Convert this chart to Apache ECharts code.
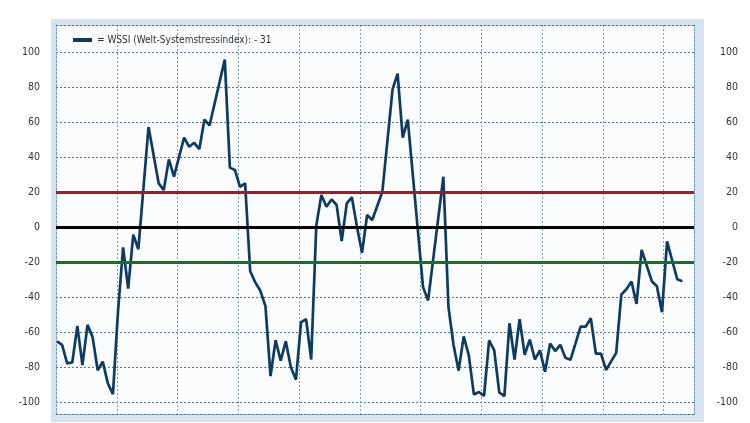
<!DOCTYPE html>
<html>
<head>
<meta charset="utf-8">
<script src="https://cdn.jsdelivr.net/npm/echarts@6/dist/echarts.min.js"></script>
<style>
  html, body { margin: 0; padding: 0; background: #fff; }
  #chart { width: 750px; height: 423px; }
</style>
</head>
<body>
<div id="chart"></div>
<script>
// Monatswerte (Index ab erstem Monat) und WSSI-Stand
const months = [0, 1, 2, 3, 4, 5, 6, 7, 8, 9, 10, 11, 12, 13, 14, 15, 16, 18, 20, 21, 22, 23,
  25, 26, 27, 28, 29, 30, 33, 34, 35, 36, 37, 38, 39, 40, 41, 42, 43, 44, 45, 46, 47, 48, 49, 50,
  51, 52, 53, 54, 55, 56, 57, 58, 59, 60, 61, 62, 64, 66, 67, 68, 69, 72, 73, 76, 77, 78, 79, 80,
  81, 82, 83, 84, 85, 86, 87, 88, 89, 90, 91, 92, 93, 94, 95, 96, 97, 98, 99, 100, 101, 103, 104,
  105, 106, 107, 108, 110, 111, 112, 113, 114, 115, 117, 118, 119, 120, 122, 123]

const wssi = [-65.5, -67.4, -78, -77.5, -56.6, -79, -56, -63, -82, -77, -89.5, -95.6, -48.2, -11.7,
  -35.3, -4.4, -12.7, 57.2, 25, 21.1, 38.7, 28.8, 51.2, 45.9, 48.2, 44.6, 61.5, 58.1, 95.8, 34,
  32.6, 23, 25, -25.3, -31.7, -36.5, -45.3, -85.3, -64.8, -76.5, -65.4, -80.2, -87.4, -54.4, -52.8,
  -75.8, 0.8, 18.3, 11.6, 15.8, 12.6, -8, 13.5, 17, 0.2, -14.7, 6.9, 4, 20.2, 78.8, 87.8, 51.1,
  61.5, -34.4, -42, 28.8, -45.8, -67.5, -82.2, -62.6, -73.4, -95.8, -94.4, -96.6, -64.9, -70.6,
  -94.7, -96.8, -55.1, -75.8, -52.8, -73.1, -64.4, -75.8, -70.6, -82.8, -66.6, -71, -67.4, -74.8,
  -76, -57, -57, -52.2, -72.5, -72.5, -81.8, -72, -38.7, -35.6, -31.2, -44, -13.1, -31, -33.9,
  -48.7, -8.2, -29.9, -31]

// Achsenbeschriftung links/rechts
const yTicks = [-100, -80, -60, -40, -20, 0, 20, 40, 60, 80, 100]

// Schwellen: 20 rot, 0 schwarz, -20 gruen
const levelValues = [20, 0, -20]
const levelColors = ['#b01520', '#000000', '#16731d']

const seriesName = 'WSSI (Welt-Systemstressindex)'
const lastValue = wssi[wssi.length - 1]

const FONT = "'Liberation Sans Narrow', 'Arial Narrow', 'DejaVu Sans Condensed', sans-serif"
const hDash = { color: '#52778a', width: 1, type: [2, 2] }
const vDash = { color: '#78a0ba', width: 1, type: [2, 2] }

const chart = echarts.init(document.getElementById('chart'), null, { renderer: 'canvas' })

chart.setOption({
  animation: false,
  backgroundColor: '#ffffff',
  legend: {
    data: [{ name: seriesName, icon: 'rect' }],
    left: 73,
    top: 35,
    padding: 0,
    itemWidth: 19,
    itemHeight: 4,
    selectedMode: false,
    formatter: name => `= ${name}: - ${Math.abs(lastValue)}`,
    textStyle: { fontFamily: FONT, fontSize: 10, color: '#333' }
  },
  grid: [
    // heller Rahmen
    { left: 51, right: 46, top: 19, bottom: 1, show: true, backgroundColor: '#d6e3ef', borderWidth: 0, z: -1 },
    // Zeichenflaeche
    { left: 56, right: 56, top: 25, bottom: 9, show: true, backgroundColor: '#fbfcfd', borderWidth: 0 }
  ],
  xAxis: [
    {
      gridIndex: 1, type: 'value', min: -0.2, max: 125.3, position: 'bottom',
      axisLine: { show: true, onZero: false, lineStyle: hDash },
      axisTick: { show: false }, axisLabel: { show: false }, splitLine: { show: false }
    },
    {
      // Jahreslinien
      gridIndex: 1, type: 'value', min: 0, max: 10.5, interval: 1, position: 'top',
      axisLine: { show: true, onZero: false, lineStyle: hDash },
      axisTick: { show: false }, axisLabel: { show: false },
      splitLine: { show: true, lineStyle: vDash }
    },
    { gridIndex: 0, type: 'value', show: false }
  ],
  yAxis: [
    {
      gridIndex: 1, type: 'value', min: -107, max: 115.6, position: 'left',
      axisLine: { show: true, onZero: false, lineStyle: vDash },
      axisTick: { show: false, customValues: yTicks },
      axisLabel: { customValues: yTicks, margin: 16, fontFamily: FONT, fontSize: 10.5, color: '#333' },
      splitLine: { show: true, lineStyle: hDash }
    },
    {
      gridIndex: 1, type: 'value', min: -107, max: 115.6, position: 'right',
      axisLine: { show: true, onZero: false, lineStyle: vDash },
      axisTick: { show: false, customValues: yTicks },
      axisLabel: { customValues: yTicks, margin: 44, align: 'right', fontFamily: FONT, fontSize: 10.5, color: '#333' },
      splitLine: { show: false }
    },
    { gridIndex: 0, type: 'value', show: false }
  ],
  series: [
    {
      // Schwellenlinien unter der Kurve
      name: 'levels',
      type: 'line',
      xAxisIndex: 0,
      yAxisIndex: 0,
      data: [],
      z: 1,
      markLine: {
        silent: true,
        symbol: ['none', 'none'],
        label: { show: false },
        data: levelValues.map((v, i) => ({ yAxis: v, lineStyle: { color: levelColors[i], width: 3, type: 'solid' } }))
      }
    },
    {
      name: seriesName,
      type: 'line',
      xAxisIndex: 0,
      yAxisIndex: 0,
      z: 3,
      showSymbol: false,
      data: months.map((m, i) => [m, wssi[i]]),
      itemStyle: { color: '#0e3b62' },
      lineStyle: { color: '#0e3b62', width: 2.7 }
    }
  ]
})
</script>
</body>
</html>
